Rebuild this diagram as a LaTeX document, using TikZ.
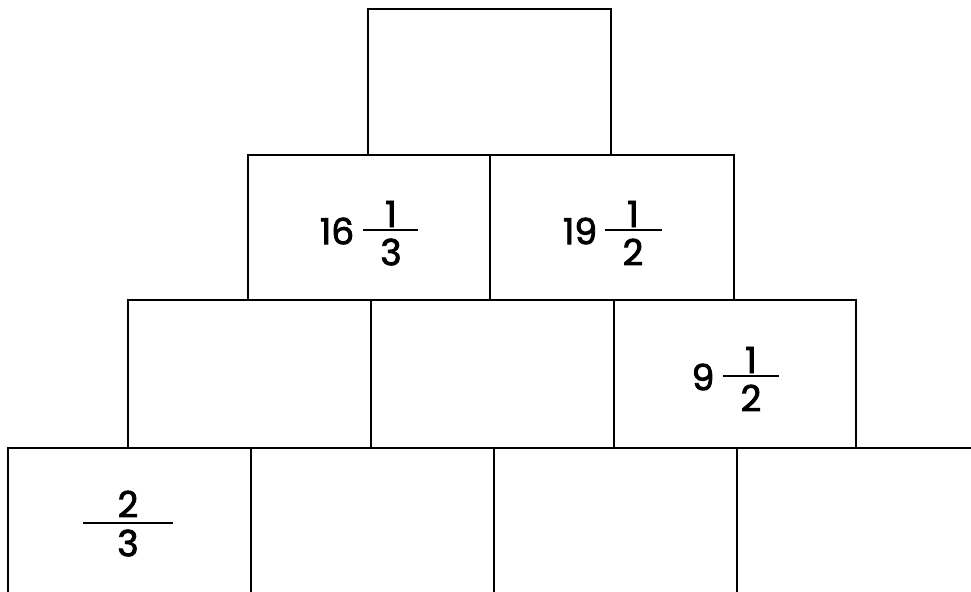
\documentclass[tikz,border=0pt]{standalone}
\usepackage{fontspec}
\setmainfont{Poppins}
\newfontfamily\numfont{Poppins}[FakeBold=2.4]
\begin{document}
\begin{tikzpicture}[x=0.75pt,y=-0.75pt,
  boxline/.style={line width=2.2pt,line cap=rect},
  fracbar/.style={line width=1.6pt},
  num/.style={inner sep=0pt,font=\numfont\fontsize{27}{30}\selectfont}]
\useasboundingbox (0,0) rectangle (971,592);
\begin{scope}
\clip (0,0) rectangle (971,592);
% top
\draw[boxline] (368,9) rectangle (611,155);
% row 2
\draw[boxline] (248,155) rectangle (734,300);
\draw[boxline] (490,155) -- (490,300);
% row 3
\draw[boxline] (128,300) rectangle (856,448);
\draw[boxline] (371,300) -- (371,448);
\draw[boxline] (614,300) -- (614,448);
% row 4
\draw[boxline] (8,600) -- (8,448) -- (975,448);
\draw[boxline] (251,448) -- (251,600);
\draw[boxline] (494,448) -- (494,600);
\draw[boxline] (737,448) -- (737,600);
\end{scope}
% 16 1/3
\node[num] (a16) at (337,231) {16};
\node[num] (a16n) at (391,214) {1};
\node[num] (a16d) at (391,252) {3};
\draw[fracbar] (363,230) -- (418,230);
% 19 1/2
\node[num] (b19) at (580,231) {19};
\node[num] (b19n) at (633,214) {1};
\node[num] (b19d) at (633,252) {2};
\draw[fracbar] (605,230) -- (662,230);
% 9 1/2
\node[num] (c9) at (703,377) {9};
\node[num] (c9n) at (751,360) {1};
\node[num] (c9d) at (751,398) {2};
\draw[fracbar] (723,376) -- (779,376);
% 2/3
\node[num] (d2n) at (128,504) {2};
\node[num] (d2d) at (128,543) {3};
\draw[fracbar] (83,523) -- (173,523);
\end{tikzpicture}
\end{document}
